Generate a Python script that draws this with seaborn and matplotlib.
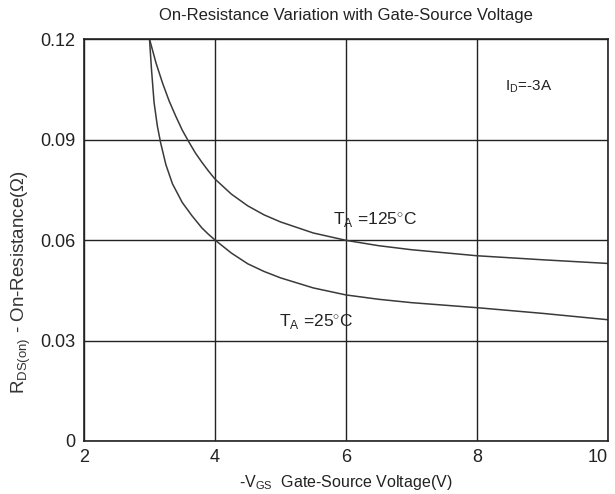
import matplotlib
matplotlib.use("Agg")
import matplotlib.pyplot as plt
import seaborn as sns
import pandas as pd

# Gate-source voltage (V) and on-resistance (ohm) for each junction temperature
vgs_25 = [3.0, 3.03, 3.07, 3.12, 3.17, 3.25, 3.35, 3.5, 3.65, 3.8, 3.9, 4.0, 4.25, 4.5, 4.75,
          5.0, 5.5, 6.0, 6.5, 7.0, 8.0, 9.0, 10.0]
rds_25 = [0.120, 0.111, 0.101, 0.094, 0.089, 0.0825, 0.0768, 0.0712, 0.0672, 0.0636, 0.0617,
          0.0600, 0.0561, 0.0529, 0.0506, 0.0487, 0.0457, 0.0436, 0.0423, 0.0413, 0.0398,
          0.0381, 0.0362]

vgs_125 = [3.0, 3.1, 3.2, 3.3, 3.4, 3.5, 3.6, 3.7, 3.8, 3.9, 4.0, 4.25, 4.5, 4.75, 5.0, 5.5,
           6.0, 6.5, 7.0, 8.0, 9.0, 10.0]
rds_125 = [0.120, 0.1128, 0.1068, 0.1015, 0.0970, 0.0928, 0.0893, 0.0860, 0.0832, 0.0806,
           0.0782, 0.0737, 0.0702, 0.0675, 0.0654, 0.0621, 0.0599, 0.0583, 0.0571, 0.0553,
           0.0541, 0.0530]

x_ticks = [2, 4, 6, 8, 10]
y_ticks = [0, 0.03, 0.06, 0.09, 0.12]
y_tick_labels = ["0", "0.03", "0.06", "0.09", "0.12"]

sns.set_theme(style="white")
plt.rcParams["font.family"] = ["Liberation Sans", "DejaVu Sans"]
plt.rcParams["mathtext.fontset"] = "custom"
plt.rcParams["mathtext.rm"] = "Liberation Sans"

df = pd.concat([
    pd.DataFrame({"vgs": vgs_25, "rds": rds_25, "temp": "25"}),
    pd.DataFrame({"vgs": vgs_125, "rds": rds_125, "temp": "125"}),
])

fig = plt.figure(figsize=(6.15, 4.94), dpi=100)
ax = fig.add_axes([0.1366, 0.1073, 0.852, 0.8137])

sns.lineplot(data=df, x="vgs", y="rds", units="temp", estimator=None, sort=False,
             color="#3a3a3a", linewidth=1.1, ax=ax, legend=False)

ax.set_xlim(2, 10)
ax.set_ylim(0, 0.12)
ax.set_xticks(x_ticks)
ax.set_xticklabels([str(t) for t in x_ticks], fontsize=13)
ax.set_yticks(y_ticks)
ax.set_yticklabels(y_tick_labels, fontsize=13)
ax.tick_params(length=0, pad=6, colors="#222222")
ax.get_xticklabels()[-1].set_horizontalalignment("right")
ax.grid(True, color="#222222", linewidth=1.0)
ax.set_axisbelow(True)
for s in ax.spines.values():
    s.set_color("#222222")
    s.set_linewidth(1.2)

ax.set_title("On-Resistance Variation with Gate-Source Voltage", fontsize=12,
             pad=14, color="#222222")
ax.set_xlabel(r"-V$_{\mathrm{GS}}$  Gate-Source Voltage(V)", fontsize=11.5,
              color="#222222", labelpad=5)
ax.set_ylabel(r"R$_{\mathrm{DS(on)}}$ - On-Resistance($\Omega$)", fontsize=13.5,
              color="#333333")
ax.yaxis.set_label_coords(-0.098, 0.395)

ax.text(5.8, 0.066, r"T$_{\mathrm{A}}$ =125$^{\circ}$C", fontsize=12.5, va="center",
        ha="left", color="#222222")
ax.text(4.98, 0.0355, r"T$_{\mathrm{A}}$ =25$^{\circ}$C", fontsize=12.5, va="center",
        ha="left", color="#222222")
ax.text(8.43, 0.1057, r"I$_{\mathrm{D}}$=-3A", fontsize=11, va="center",
        ha="left", color="#222222")

fig.savefig("out.png", dpi=100)
